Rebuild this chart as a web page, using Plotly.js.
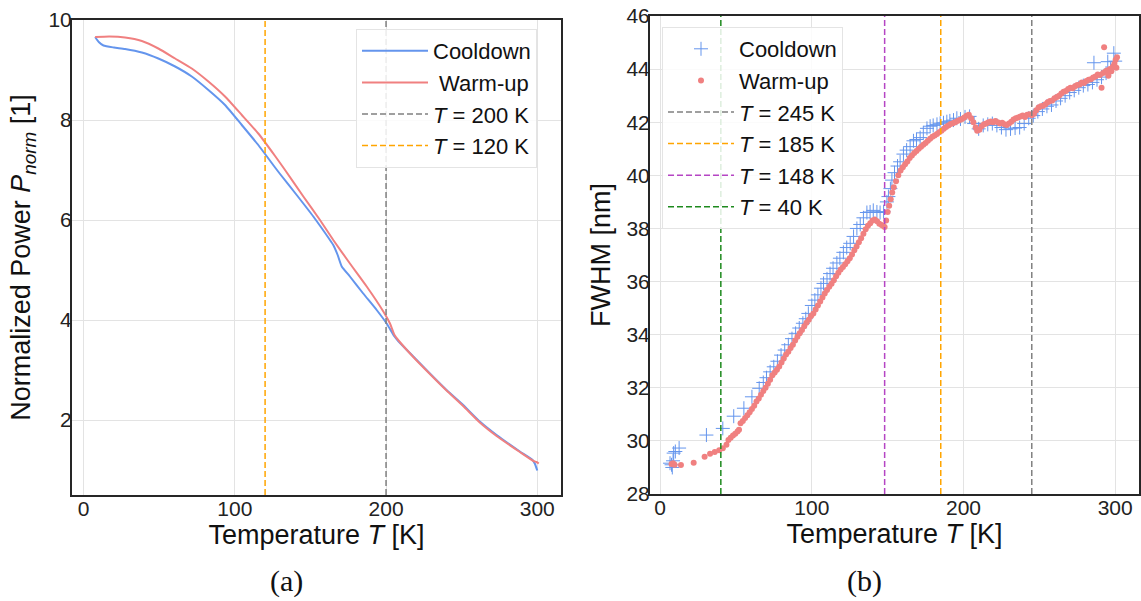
<!DOCTYPE html>
<html>
<head>
<meta charset="utf-8">
<script src="https://cdn.plot.ly/plotly-3.0.1.min.js"></script>
<style>
  html, body { margin: 0; padding: 0; background: #ffffff; }
  #chart { width: 1141px; height: 601px; }
</style>
</head>
<body>
<div id="chart"></div>
<script>
// ---------- Panel (a): normalized power vs temperature ----------
const tempCoolA = [7.6, 10, 13.1, 20, 27.4, 38.5, 49.4, 60.5, 71.5, 82.5, 93.5, 104.6, 115.5, 126.6, 129.9, 140.9, 151.9, 162.9, 165.1, 168, 170.7, 176.1, 184.9, 193.8, 200.4, 205.6, 208, 218, 229, 240, 251, 262, 273.1, 288.5, 296.9, 298.5, 300];
const powerCoolA = [9.66, 9.56, 9.49, 9.45, 9.42, 9.35, 9.23, 9.07, 8.87, 8.60, 8.30, 7.90, 7.50, 7.05, 6.92, 6.50, 6.07, 5.60, 5.50, 5.30, 5.07, 4.87, 4.53, 4.20, 3.93, 3.67, 3.58, 3.27, 2.93, 2.60, 2.30, 1.97, 1.70, 1.37, 1.20, 1.12, 0.99];

const tempWarmA = [7.6, 17, 27.4, 38.5, 49.4, 60.5, 71.5, 82.5, 93.5, 104.6, 115.5, 126.6, 133.2, 145.3, 156.3, 165.1, 176.1, 187.2, 198.2, 202.6, 205.6, 208, 218, 229, 240, 251, 262, 273.1, 288.5, 297.5, 299.5, 301];
const powerWarmA = [9.66, 9.67, 9.65, 9.58, 9.43, 9.23, 9.03, 8.77, 8.47, 8.10, 7.73, 7.28, 7.00, 6.47, 6.00, 5.60, 5.13, 4.67, 4.17, 3.93, 3.70, 3.60, 3.26, 2.92, 2.59, 2.28, 1.95, 1.68, 1.36, 1.18, 1.16, 1.13];

const markTempsA = [200, 120];
const markColorsA = ['#808080', '#FFA500'];

// ---------- Panel (b): FWHM vs temperature ----------
const tempCoolB = [
  6.5, 7.5, 8, 8.5, 8.9, 10, 12.5, 30.5, 41.3, 48.5,
  55.2, 60.5, 65.3, 68, 70.1, 72.5, 74.9, 77.3, 79.7, 82.1,
  84.5, 86.9, 89.3, 91.7, 94.1, 96, 97.7, 100, 102, 104,
  106, 107.7, 110, 112, 114, 116.5, 118.5, 120.8, 123, 125.3,
  127.5, 129.7, 131.9, 134, 136.3, 138.4, 140.5, 142.9, 145, 147.3,
  149.5, 150.5, 151.8, 152.8, 154.5, 156.5, 158.2, 160.4, 162.5, 164.8,
  167, 169, 171.4, 173.5, 175.9, 178, 180, 182.5, 184.6, 186.8,
  189, 191, 193.4, 195.6, 198, 201, 204, 207, 210, 213,
  216, 219, 222, 225, 228, 231, 234, 237, 240, 243,
  246, 249, 252, 255, 258, 261, 264, 267, 270, 273,
  276, 279, 282, 285, 286, 288, 291, 294, 295.1, 297,
  299.1, 300];
const fwhmCoolB = [
  29.16, 29.10, 29.00, 29.25, 29.54, 29.60, 29.73, 30.22, 30.47, 30.93,
  31.23, 31.66, 31.98, 32.20, 32.38, 32.60, 32.79, 33.00, 33.23, 33.42,
  33.62, 33.85, 34.05, 34.25, 34.43, 34.60, 34.80, 35.10, 35.30, 35.50,
  35.75, 35.93, 36.10, 36.30, 36.50, 36.70, 36.88, 37.10, 37.28, 37.44,
  37.70, 38.00, 38.15, 38.40, 38.60, 38.62, 38.68, 38.62, 38.60, 38.63,
  39.00, 39.20, 39.50, 39.82, 40.10, 40.35, 40.51, 40.80, 40.95, 41.08,
  41.30, 41.35, 41.42, 41.60, 41.77, 41.85, 41.88, 41.92, 41.96, 41.98,
  42.02, 42.05, 42.08, 42.15, 42.12, 42.20, 42.22, 41.95, 41.75, 41.88,
  41.92, 41.95, 41.88, 41.80, 41.72, 41.75, 41.78, 41.80, 41.95, 42.15,
  42.25, 42.40, 42.50, 42.60, 42.65, 42.80, 42.90, 43.00, 43.12, 43.20,
  43.30, 43.38, 43.42, 43.50, 44.24, 43.60, 43.70, 43.85, 44.28, 44.00,
  44.60, 44.30];

const tempWarmB = [
  7.5, 8.5, 9.5, 13.7, 22.1, 29.3, 32.9, 36.0, 38.9, 41.3,
  43.7, 45, 46.5, 48, 49.5, 51, 52, 53, 54.5, 56,
  57.5, 59, 60.5, 62, 63.5, 65, 66.5, 68, 69.5, 71,
  72.5, 74, 75.5, 77, 78.5, 80, 81.5, 83, 84.5, 86,
  87.5, 89, 90.5, 92, 93.5, 95, 96.5, 98, 99.5, 101,
  102.5, 104, 105.5, 107, 108.5, 110, 111.5, 113, 114.5, 116,
  117.5, 119, 120.5, 122, 123.5, 125, 126.5, 128, 129.5, 131,
  132.5, 134, 135.5, 137, 138.5, 140, 141.5, 143, 144.5, 146,
  147, 148, 149, 150, 151, 152, 153, 154, 155.5, 157,
  158.5, 160, 161.5, 163, 164.5, 166, 167.5, 169, 170.5, 172,
  173.5, 175, 176.5, 178, 179.5, 181, 182.5, 184, 185.5, 187,
  188.5, 190, 191.5, 193, 194.5, 196, 197.5, 199, 200.5, 202,
  203.5, 205, 206.5, 208, 209, 210.5, 212, 213.5, 215, 216.5,
  218, 219.5, 221, 222.5, 224, 225.5, 227, 228.5, 230, 231.5,
  233, 234.5, 236, 237.5, 239, 240.5, 242, 243.5, 245, 246.5,
  248, 249.5, 251, 252.5, 254, 255.5, 257, 258.5, 260, 261.5,
  263, 264.5, 266, 267.5, 269, 270.5, 272, 273.5, 275, 276.5,
  278, 279.5, 281, 282.5, 284, 285.5, 287, 288.5, 290, 291,
  292, 292.7, 293.5, 294.5, 295.5, 296.5, 297.5, 298.5, 299.5, 300.3,
  300.8, 301.2];
const fwhmWarmB = [
  29.13, 29.16, 29.10, 29.09, 29.18, 29.40, 29.52, 29.58, 29.65, 29.72,
  29.85, 30.03, 30.12, 30.20, 30.27, 30.35, 30.42, 30.66, 30.75, 30.86,
  30.97, 31.08, 31.20, 31.32, 31.48, 31.60, 31.74, 31.88, 32.00, 32.15,
  32.30, 32.47, 32.58, 32.68, 32.80, 32.95, 33.10, 33.25, 33.36, 33.50,
  33.62, 33.78, 33.92, 34.05, 34.18, 34.32, 34.45, 34.56, 34.70, 34.80,
  34.95, 35.10, 35.25, 35.40, 35.55, 35.68, 35.80, 35.92, 36.05, 36.20,
  36.33, 36.45, 36.55, 36.65, 36.76, 36.88, 37.02, 37.18, 37.32, 37.48,
  37.63, 37.80, 37.97, 38.10, 38.20, 38.30, 38.34, 38.27, 38.18, 38.13,
  38.10, 38.05, 38.30, 38.62, 38.85, 39.10, 39.35, 39.55, 39.78, 40.00,
  40.18, 40.30, 40.42, 40.52, 40.65, 40.75, 40.84, 40.92, 41.00, 41.08,
  41.15, 41.22, 41.30, 41.38, 41.45, 41.50, 41.56, 41.62, 41.68, 41.75,
  41.82, 41.88, 41.93, 41.96, 42.00, 42.05, 42.08, 42.12, 42.18, 42.24,
  42.28, 42.15, 42.00, 41.80, 41.68, 41.72, 41.85, 41.92, 41.95, 42.00,
  42.03, 42.00, 42.05, 42.00, 41.95, 41.98, 41.92, 41.90, 41.95, 42.02,
  42.10, 42.15, 42.18, 42.22, 42.25, 42.20, 42.28, 42.30, 42.26, 42.32,
  42.45, 42.55, 42.60, 42.62, 42.68, 42.75, 42.80, 42.82, 42.90, 42.95,
  43.00, 43.08, 43.15, 43.18, 43.25, 43.30, 43.28, 43.35, 43.40, 43.42,
  43.50, 43.48, 43.55, 43.60, 43.62, 43.68, 43.72, 43.80, 43.78, 43.30,
  43.85, 44.82, 43.90, 43.95, 43.75, 44.00, 43.92, 44.10, 44.20, 44.35,
  44.05, 44.45];

const markTempsB = [245, 185, 148, 40];
const markColorsB = ['#808080', '#FFA500', '#B545C4', '#1E8A1E'];

// ---------- Axis settings ----------
const xRangeA = [-7.7, 315.7];
const yRangeA = [0.5, 10];
const xRangeB = [-6.7, 315.7];
const yRangeB = [28, 46];

const BLUE = '#6495ED';
const RED = '#F08080';
const FONT = 'Liberation Sans, Arial, sans-serif';

const traces = [];

traces.push({
  x: tempCoolA, y: powerCoolA, xaxis: 'x', yaxis: 'y', type: 'scatter', mode: 'lines',
  name: 'Cooldown', line: { color: BLUE, width: 2, shape: 'spline', smoothing: 0.5 },
  legend: 'legend', legendgroup: 'a1'
});
traces.push({
  x: tempWarmA, y: powerWarmA, xaxis: 'x', yaxis: 'y', type: 'scatter', mode: 'lines',
  name: '&nbsp;Warm-up', line: { color: RED, width: 2, shape: 'spline', smoothing: 0.5 },
  legend: 'legend', legendgroup: 'a2'
});
markTempsA.forEach((t, i) => {
  traces.push({
    x: [t, t], y: yRangeA, xaxis: 'x', yaxis: 'y', type: 'scatter', mode: 'lines',
    name: '<i>T</i> = ' + t + ' K',
    line: { color: markColorsA[i], width: 1.5, dash: '6px,3px' },
    legend: 'legend', legendgroup: 'a' + (i + 3)
  });
});

traces.push({
  x: tempCoolB, y: fwhmCoolB, xaxis: 'x2', yaxis: 'y2', type: 'scatter', mode: 'markers',
  name: 'Cooldown',
  marker: { symbol: 'cross-thin-open', size: 10, color: BLUE, line: { color: BLUE, width: 1 } },
  legend: 'legend2', legendgroup: 'b1'
});
traces.push({
  x: tempWarmB, y: fwhmWarmB, xaxis: 'x2', yaxis: 'y2', type: 'scatter', mode: 'markers',
  name: 'Warm-up',
  marker: { symbol: 'circle', size: 6, color: RED, line: { width: 0 } },
  legend: 'legend2', legendgroup: 'b2'
});
markTempsB.forEach((t, i) => {
  traces.push({
    x: [t, t], y: yRangeB, xaxis: 'x2', yaxis: 'y2', type: 'scatter', mode: 'lines',
    name: '<i>T</i> = ' + t + ' K',
    line: { color: markColorsB[i], width: 1.5, dash: '6px,3px' },
    legend: 'legend2', legendgroup: 'b' + (i + 3)
  });
});

const W = 1141, H = 601;
function axisBase(standoffLabels) {
  return {
    showline: true, mirror: true, linecolor: '#262626', linewidth: 2,
    showgrid: true, gridcolor: '#e3e3e3', gridwidth: 1,
    zeroline: false, ticks: '', ticklabelstandoff: standoffLabels,
    tickfont: { family: FONT, size: 21, color: '#222' }
  };
}

const legendBase = {
  font: { family: FONT, size: 22, color: '#111' },
  bgcolor: 'rgba(255,255,255,0.85)', bordercolor: '#e4e4e4', borderwidth: 1,
  xanchor: 'left', yanchor: 'top', itemwidth: 66, tracegroupgap: 0,
  itemclick: false, itemdoubleclick: false
};

const titleFont = { family: FONT, size: 27, color: '#111' };

const layout = {
  width: W, height: H,
  margin: { l: 0, r: 0, t: 0, b: 0 },
  paper_bgcolor: '#ffffff', plot_bgcolor: '#ffffff',
  font: { family: FONT, color: '#111' },
  xaxis: Object.assign(axisBase(-6), {
    domain: [72 / W, 561 / W], range: xRangeA, anchor: 'y',
    tickvals: [0, 100, 200, 300],
    title: { text: 'Temperature <i>T</i> [K]', font: titleFont, standoff: 2 }
  }),
  yaxis: Object.assign(axisBase(-6), {
    domain: [1 - 495 / H, 1 - 20 / H], range: yRangeA, anchor: 'x',
    tickvals: [2, 4, 6, 8, 10],
    title: { text: 'Normalized Power <i>P<sub>norm</sub></i> [1]', font: titleFont, standoff: 10 }
  }),
  xaxis2: Object.assign(axisBase(-6), {
    domain: [650 / W, 1139 / W], range: xRangeB, anchor: 'y2',
    tickvals: [0, 100, 200, 300],
    title: { text: 'Temperature <i>T</i> [K]', font: titleFont, standoff: 2 }
  }),
  yaxis2: Object.assign(axisBase(-6), {
    domain: [1 - 494 / H, 1 - 16 / H], range: yRangeB, anchor: 'x2',
    tickvals: [28, 30, 32, 34, 36, 38, 40, 42, 44, 46],
    title: { text: 'FWHM [nm]', font: titleFont, standoff: 8 }
  }),
  legend: Object.assign({}, legendBase, { x: 356 / W, y: 1 - 29 / H }),
  legend2: Object.assign({}, legendBase, { x: 662 / W, y: 1 - 27 / H }),
  showlegend: true,
  annotations: [
    { text: '(a)', xref: 'paper', yref: 'paper', x: 286 / W, y: 1 - 581 / H, xanchor: 'center', yanchor: 'middle',
      showarrow: false, font: { family: 'Liberation Serif, DejaVu Serif, serif', size: 30, color: '#111' } },
    { text: '(b)', xref: 'paper', yref: 'paper', x: 864 / W, y: 1 - 581 / H, xanchor: 'center', yanchor: 'middle',
      showarrow: false, font: { family: 'Liberation Serif, DejaVu Serif, serif', size: 30, color: '#111' } }
  ]
};

Plotly.newPlot('chart', traces, layout, { staticPlot: true, displayModeBar: false });
</script>
</body>
</html>
